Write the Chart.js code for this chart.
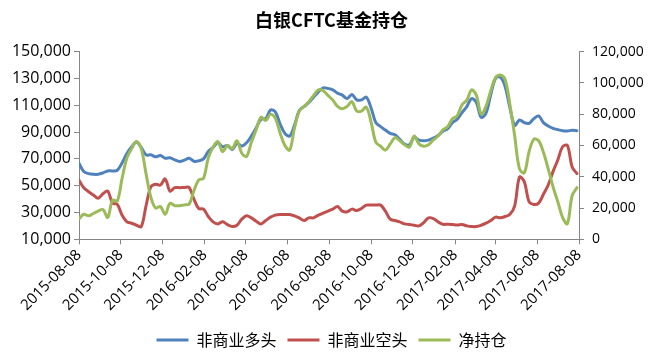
<!DOCTYPE html>
<html>
<head>
<meta charset="utf-8">
<script src="https://cdn.jsdelivr.net/npm/chart.js@4/dist/chart.umd.min.js"></script>
<style>
  html, body { margin: 0; padding: 0; background: #fff; }
  #wrap { width: 663px; height: 355px; }
</style>
</head>
<body>
<div id="wrap"><canvas id="c" width="663" height="355"></canvas></div>
<script>
// ---- data ----
const title = '白银CFTC基金持仓';
const seriesNames = ['非商业多头', '非商业空头', '净持仓'];
const startDate = '2015-08-08';
const endDate = '2017-08-08';
const tickLabels = ['2015-08-08','2015-10-08','2015-12-08','2016-02-08','2016-04-08','2016-06-08',
  '2016-08-08','2016-10-08','2016-12-08','2017-02-08','2017-04-08','2017-06-08','2017-08-08'];

// weekly observations, left axis
const longPos = [
  66700,60500,59000,58500,58500,59500,61000,61000,61500,67000,
  74000,79000,82500,78500,73000,73000,71500,72500,70500,70800,
  69200,68000,69000,70500,68200,68500,70000,75500,78500,82000,
  79000,80000,77000,81500,79600,82000,87000,93000,99500,100000,
  106500,105000,96000,89000,87000,95000,106000,109000,112000,116000,
  120000,123000,122500,121500,119000,117500,115000,118000,114000,114000,
  116000,108000,97000,94000,91500,89000,88000,84500,81000,80500,
  86000,84000,83500,84000,85500,87500,90500,92500,97000,99500,
  104500,109000,115000,112000,101000,104000,118000,130000,131000,124000,
  108000,95000,99000,97000,96500,100000,102000,97000,94500,92800,
  91800,91000,90800,91300,91000
];
const shortPos = [
  54000,48500,45500,43000,40600,44000,46000,37000,36000,28000,
  23000,22000,20500,19500,35000,49000,51000,50500,55000,46000,
  48500,48500,48600,48600,40000,33000,32500,27000,23000,21500,
  23000,21000,19500,20500,25000,27500,26000,23500,21500,24000,
  26500,28000,28500,28500,28500,27500,26000,24000,26000,26000,
  28000,29500,31000,32500,34500,31000,30500,32500,31500,33000,
  35500,35500,35500,35500,31000,25000,24000,23000,21500,21000,
  20500,20000,22500,26000,25500,23000,21200,21200,21000,20700,
  21000,20000,19500,19500,20500,22000,24000,26500,26000,27000,
  28600,35000,56500,53000,38000,36000,37000,43600,50500,60500,
  69200,79000,80000,64000,59000
];
// right axis
const netPos = [
  13000,16000,15000,16500,18000,19000,14000,25000,24500,39000,
  52000,58000,62500,58000,42000,27000,20000,21000,16000,23000,
  21500,21500,22000,22500,31000,38000,39000,52000,59000,62500,
  56000,60000,58000,63000,55000,53000,62000,70000,78000,76000,
  80000,77500,68000,60000,57000,71000,82000,85000,88000,92000,
  95500,95000,92000,89000,85000,83500,85000,88000,82000,82000,
  84500,75000,62000,59500,57000,61000,65000,63000,60500,59000,
  66000,61000,59500,60500,63500,66000,70000,72000,77000,79000,
  86000,89000,95500,92000,80000,85000,95000,103500,105000,102000,
  86000,66000,45000,42500,56000,64000,63000,55600,45000,33600,
  24000,14000,10000,28000,33000
];

const colors = ['#4F81BD', '#C0504D', '#9BBB59'];

// ---- helpers ----
function dayNum(s) { const p = s.split('-').map(Number); return Date.UTC(p[0], p[1]-1, p[2]) / 86400000; }
const d0 = dayNum(startDate);
const spanDays = dayNum(endDate) - d0;
const categories = longPos.map((_, i) => {
  const d = new Date((d0 + 7*i) * 86400000);
  return d.toISOString().slice(0,10);
});
function pts(arr) { return arr.map((v, i) => ({ x: dayNum(categories[i]) - d0, y: v })); }
const fmt = v => Number(v).toLocaleString('en-US');
const axisColor = '#868686';
const tickFontL = { family: 'Open Sans', size: 16 };
const tickFontR = { family: 'Open Sans', size: 14 };

new Chart(document.getElementById('c'), {
  type: 'line',
  data: {
    datasets: [
      { label: seriesNames[0], data: pts(longPos), borderColor: colors[0], backgroundColor: colors[0], yAxisID: 'y', order: 3 },
      { label: seriesNames[1], data: pts(shortPos), borderColor: colors[1], backgroundColor: colors[1], yAxisID: 'y', order: 2 },
      { label: seriesNames[2], data: pts(netPos), borderColor: colors[2], backgroundColor: colors[2], yAxisID: 'y1', order: 1 }
    ]
  },
  options: {
    responsive: false,
    animation: false,
    devicePixelRatio: 1,
    layout: { padding: { left: 0, right: 0, top: 0, bottom: -3 } },
    elements: {
      point: { radius: 0, hoverRadius: 0 },
      line: { borderWidth: 3, tension: 0.35, borderCapStyle: 'round', borderJoinStyle: 'round' }
    },
    plugins: {
      tooltip: { enabled: false },
      title: {
        display: true, text: title, color: '#000',
        font: { family: 'Noto Sans CJK SC', size: 18, weight: 'bold' },
        padding: { top: 9, bottom: 21 }
      },
      legend: {
        position: 'bottom',
        labels: {
          color: '#000',
          font: { family: 'Noto Sans CJK SC', size: 16 },
          boxWidth: 32, boxHeight: 3, padding: 11,
          sort: (a, b) => a.datasetIndex - b.datasetIndex,
          generateLabels: (chart) => chart.data.datasets.map((ds, i) => ({
            text: ds.label, fillStyle: ds.borderColor, strokeStyle: ds.borderColor,
            lineWidth: 0, hidden: false, datasetIndex: i, fontColor: '#000'
          }))
        }
      }
    },
    scales: {
      x: {
        type: 'linear', min: 0, max: spanDays,
        afterBuildTicks: (scale) => { scale.ticks = tickLabels.map(t => ({ value: dayNum(t) - d0 })); },
        afterFit: (scale) => { scale.height = 81.7; },
        ticks: {
          autoSkip: false, minRotation: 45, maxRotation: 45, padding: 2, color: '#000',
          font: { family: 'Open Sans', size: 15 },
          callback: (v, i) => tickLabels[i]
        },
        grid: { display: true, drawOnChartArea: false, drawTicks: true, tickLength: 5, color: axisColor },
        border: { display: true, color: axisColor, width: 1 }
      },
      y: {
        position: 'left', min: 10000, max: 150000,
        afterFit: (scale) => { scale.width = 79; },
        ticks: { stepSize: 20000, color: '#000', font: tickFontL, padding: 3, callback: v => fmt(v) },
        grid: { display: true, drawOnChartArea: false, drawTicks: true, tickLength: 5, color: axisColor },
        border: { display: true, color: axisColor, width: 1 }
      },
      y1: {
        position: 'right', min: 0, max: 120000,
        afterFit: (scale) => { scale.width = 84; },
        ticks: { stepSize: 20000, color: '#000', font: tickFontR, padding: 8, callback: v => fmt(v) },
        grid: { display: true, drawOnChartArea: false, drawTicks: true, tickLength: 5, color: axisColor },
        border: { display: true, color: axisColor, width: 1 }
      }
    }
  }
});
</script>
</body>
</html>
